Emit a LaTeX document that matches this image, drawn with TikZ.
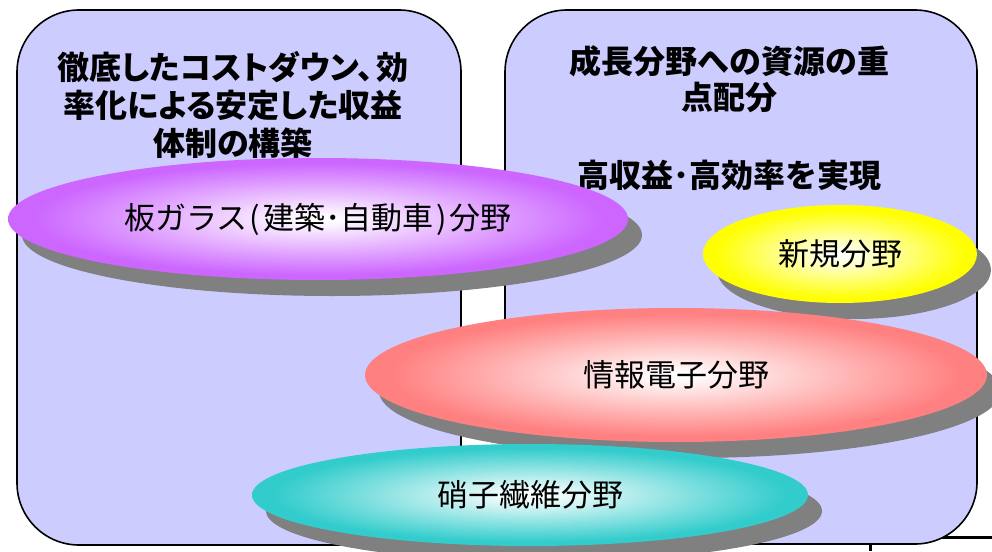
\documentclass[tikz,border=0pt]{standalone}
\usepackage{fontspec}
\newfontfamily\jp{Noto Sans CJK JP}
\newfontfamily\jpp{Noto Sans CJK JP}[RawFeature=+palt]
\usetikzlibrary{shapes.geometric,shadows}
\definecolor{boxfill}{RGB}{204,204,255}
\definecolor{purp}{RGB}{204,102,255}
\definecolor{yell}{RGB}{255,255,0}
\definecolor{pinkc}{RGB}{255,128,128}
\definecolor{tealc}{RGB}{51,204,204}
\definecolor{shgray}{RGB}{128,128,128}
\pgfdeclareradialshading{purpsh}{\pgfpoint{0bp}{0bp}}{color(0bp)=(white); color(1bp)=(white); color(23bp)=(purp); color(50bp)=(purp)}
\pgfdeclareradialshading{yellsh}{\pgfpoint{0bp}{0bp}}{color(0bp)=(white); color(1bp)=(white); color(23bp)=(yell); color(50bp)=(yell)}
\pgfdeclareradialshading{pinksh}{\pgfpoint{0bp}{0bp}}{color(0bp)=(white); color(1bp)=(white); color(23bp)=(pinkc); color(50bp)=(pinkc)}
\pgfdeclareradialshading{tealsh}{\pgfpoint{0bp}{0bp}}{color(0bp)=(white); color(1bp)=(white); color(23bp)=(tealc); color(50bp)=(tealc)}
\tikzset{
  panel/.style={draw=black, line width=1.6pt, fill=boxfill, rounded corners=62pt},
  headl/.style={font=\jpp\bfseries\fontsize{32pt}{38pt}\selectfont, inner sep=0pt},
  headr/.style={font=\jp\bfseries\fontsize{32pt}{38pt}\selectfont, inner sep=0pt},
  field/.style={ellipse, inner sep=0pt, font=\jp\fontsize{31pt}{36pt}\selectfont,
    drop shadow={shadow xshift=14pt, shadow yshift=-16pt, fill=shgray, opacity=1}},
  stub/.style={draw=black, line width=3pt}
}
\begin{document}
\begin{tikzpicture}[x=1pt,y=-1pt]
\useasboundingbox (0,0) rectangle (992,551);
% partial lines behind the right panel
\coordinate (s1) at (870,551);
\coordinate (s2) at (870,537);
\coordinate (s3) at (992,537);
\draw[stub] (s1) -- (s2) -- (s3);
% panels
\draw[panel] (17,10) rectangle (461,545);
\draw[panel] (505,10) rectangle (977,544);
% headings
\node[headl] (l1) at (233,67) {徹底したコストダウン、\hspace{3pt}効};
\node[headl] (l2) at (233,105) {率化による安定した収益};
\node[headl] (l3) at (233,143) {体制の構築};
\node[headr] (r1) at (729,61) {成長分野への資源の重};
\node[headr] (r2) at (729,97) {点配分};
\node[headr] (r3) at (729,175) {高収益･高効率を実現};
% fields
\node[field, shading=purpsh, minimum width=620pt, minimum height=122pt] (glass) at (318,219) {板ガラス\hspace{2pt}(\hspace{3pt}建築･自動車\hspace{3pt})\hspace{2pt}分野};
\node[field, shading=yellsh, minimum width=274pt, minimum height=98pt] (new) at (840,254) {新規分野};
\node[field, shading=pinksh, minimum width=622pt, minimum height=134pt] (elec) at (676,375) {情報電子分野};
\node[field, shading=tealsh, minimum width=556pt, minimum height=102pt] (fiber) at (530,495) {硝子繊維分野};
\end{tikzpicture}
\end{document}
